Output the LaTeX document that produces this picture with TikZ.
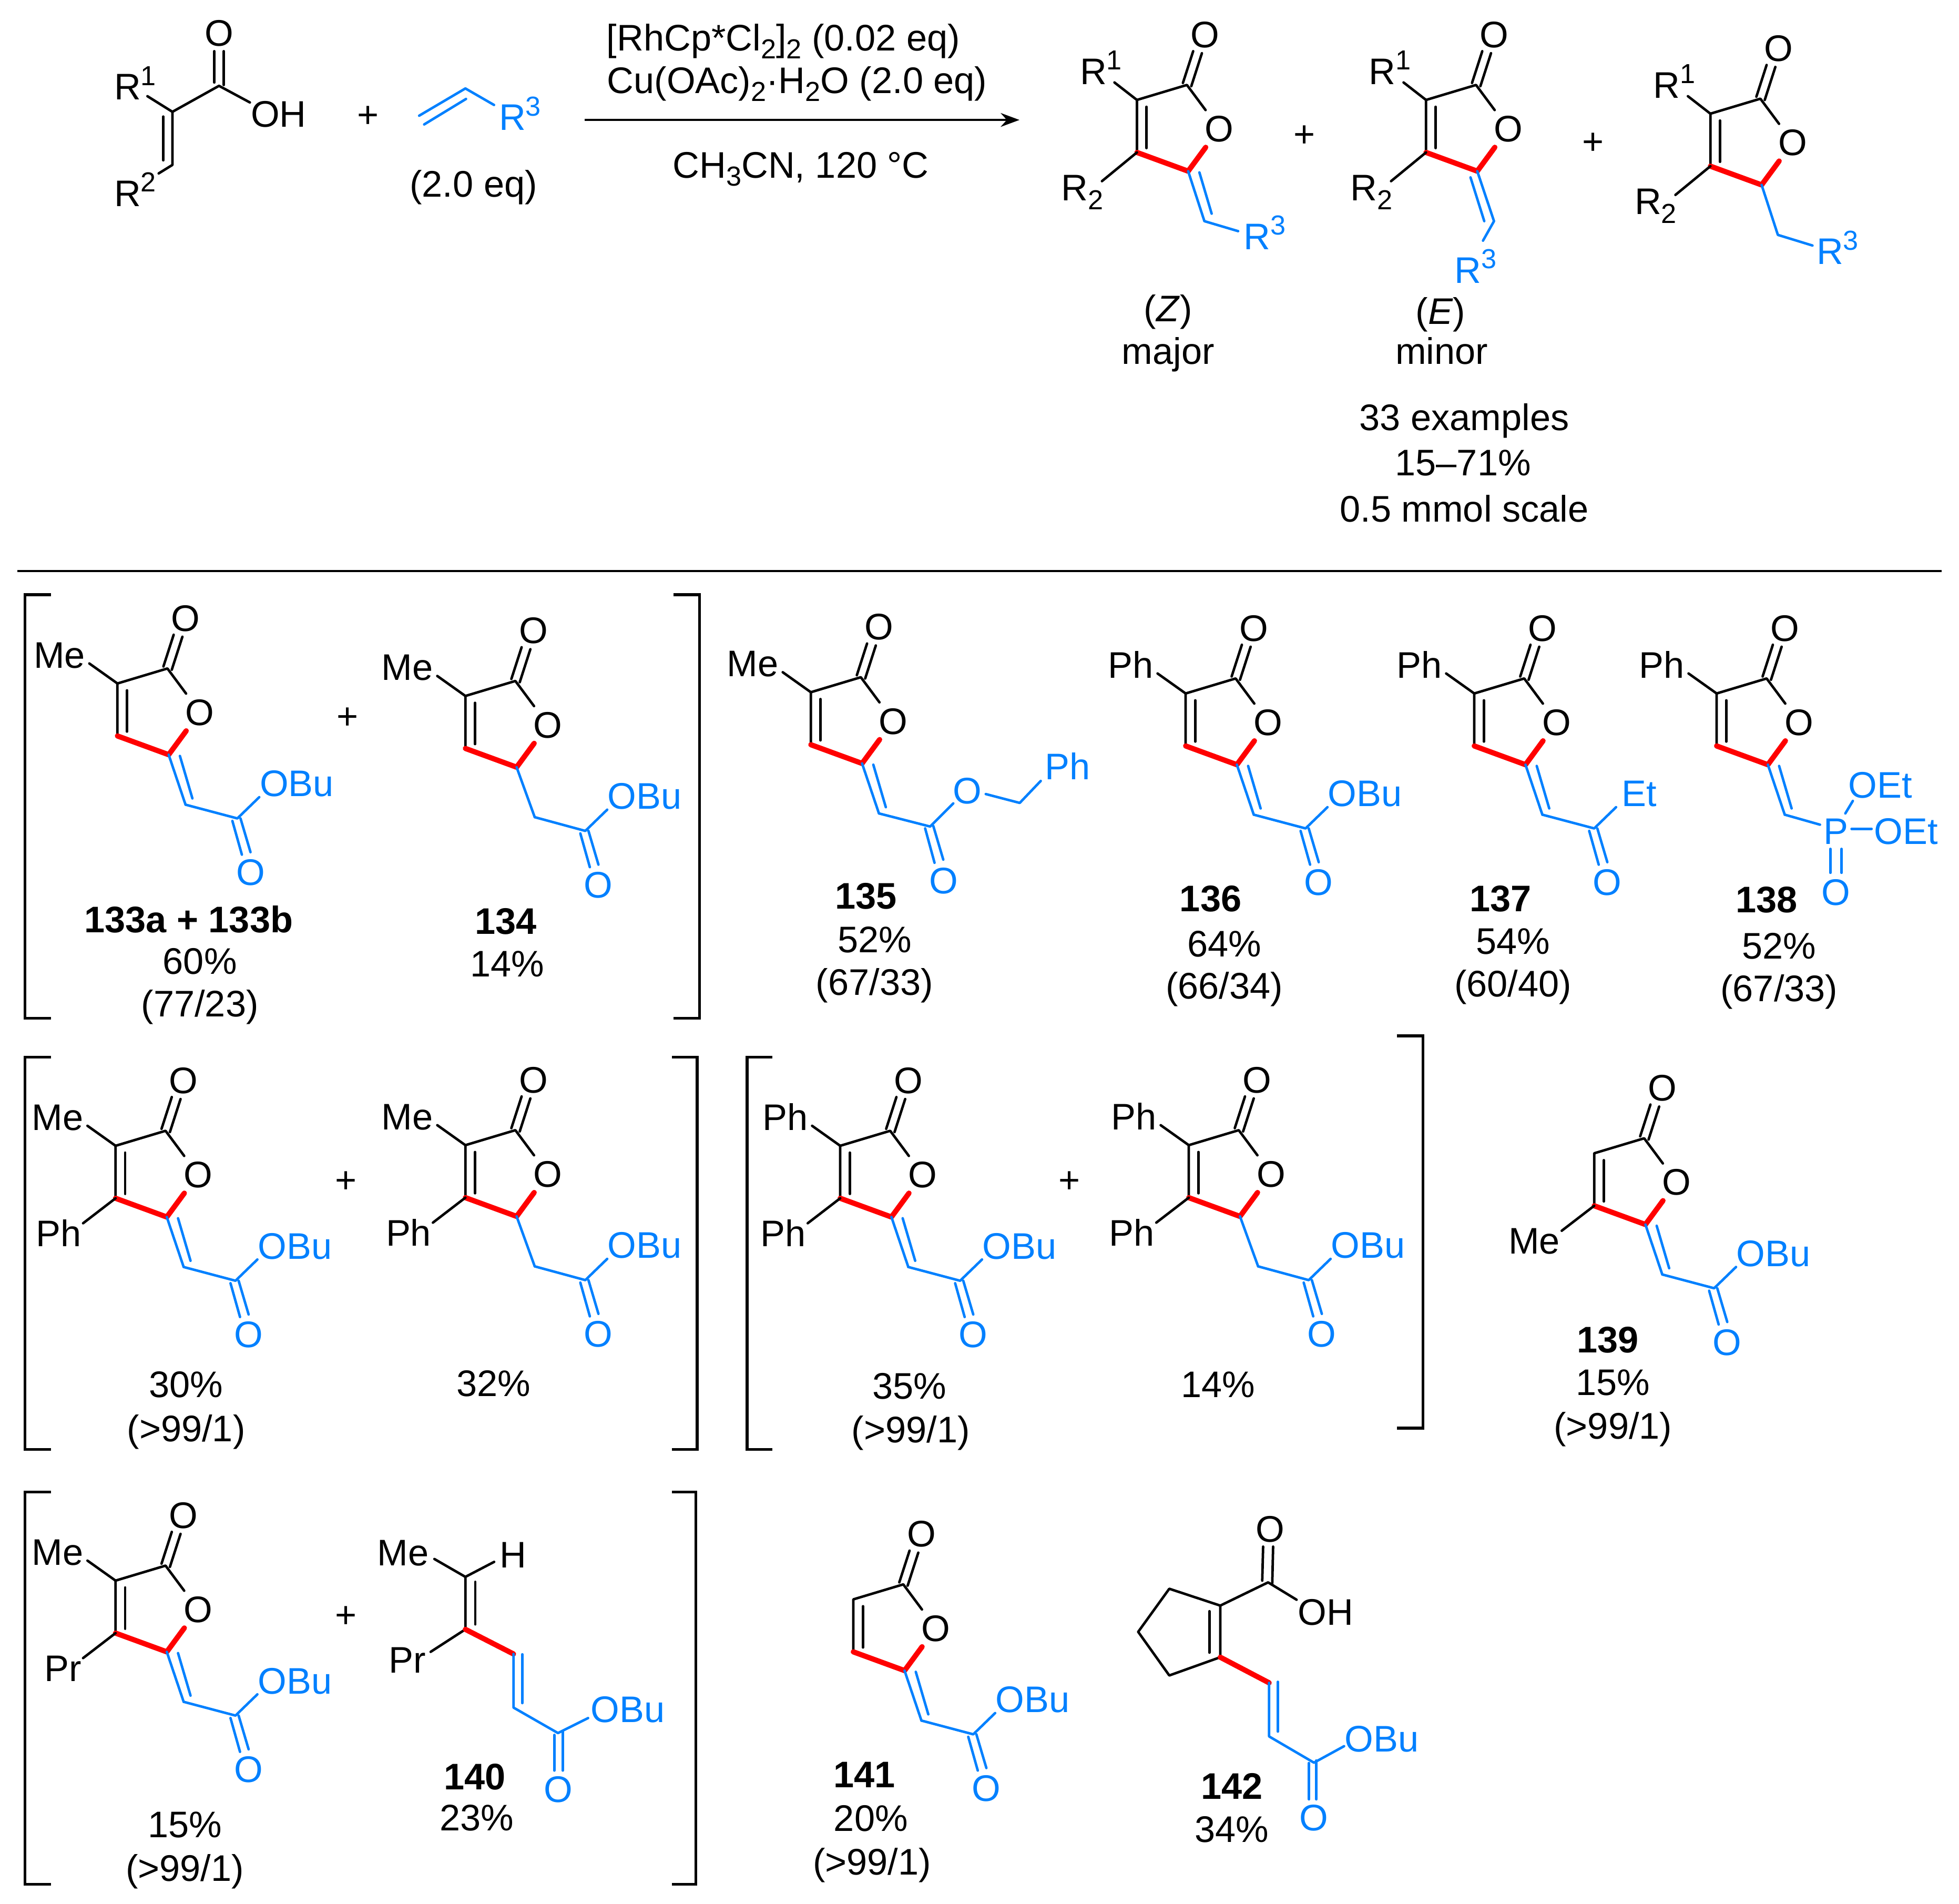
\documentclass[tikz,border=0pt]{standalone}
\usepackage{fontspec}
\setmainfont{Liberation Sans}
\usetikzlibrary{arrows.meta}
\definecolor{chemblue}{RGB}{0,128,255}
\definecolor{chemred}{RGB}{255,0,0}
\newcommand{\tsb}[1]{\raisebox{-3.2pt}{\fontsize{11}{12}\selectfont #1}}
\newcommand{\tsp}[1]{\raisebox{5.8pt}{\fontsize{11}{12}\selectfont #1}}
\tikzset{
  every node/.style={font=\fontsize{14.8}{17}\selectfont},
  bond/.style={line width=1pt,draw=black,line cap=round,line join=round},
  bluebond/.style={line width=1pt,draw=chemblue,line cap=round,line join=round},
  hot/.style={line width=2.1pt,draw=chemred,line cap=round,line join=round},
  brk/.style={line width=1.1pt,draw=black,line join=miter},
  atom/.style={inner sep=2pt,text height=10.5pt,text depth=0pt},
  bluatom/.style={atom,text=chemblue},
  rlab/.style={inner sep=0pt,text height=10.5pt,text depth=0pt},
  blurlab/.style={rlab,text=chemblue},
  lab/.style={inner sep=0pt,text height=10.5pt,text depth=0pt},
  ringatom/.style={inner sep=0pt,text height=10.5pt,text depth=0pt,anchor=east},
}
% furan-2-one ring; #1 prefix, origin (#2,#3) = ring carbon bearing the upper substituent
\newcommand{\lactone}[3]{%
  \begin{scope}[shift={(#2,#3)}]
    \coordinate (#1C4) at (0,0);
    \coordinate (#1C2) at (40,-12);
    \coordinate (#1C5) at (41,57);
    \coordinate (#1C3) at (0,42);
    \node[atom] (#1O) at (66,23) {O};
    \node[atom] (#1Oc) at (54.5,-52.5) {O};
    \draw[bond] (#1C3) -- (#1C4) -- (#1C2) -- (#1O);
    \draw[bond] (7.7,5.5) -- (7.7,38.5);
    \draw[bond] (36.8,-13.6) -- (45,-39);
    \draw[bond] (43.5,-11) -- (52,-37.4);
    \draw[hot] (#1C3) -- (#1C5) -- (#1O);
  \end{scope}}
\newcommand{\upsub}[4]{% prefix, origin, text
  \begin{scope}[shift={(#2,#3)}]
    \node[ringatom] (#1U) at (-25.5,-23) {#4};
    \coordinate (#1Ue) at (-22.5,-16);
    \draw[bond] (#1C4) -- (#1Ue);
  \end{scope}}
\newcommand{\lowsub}[4]{%
  \begin{scope}[shift={(#2,#3)}]
    \node[ringatom] (#1L) at (-27,70) {#4};
    \coordinate (#1Le) at (-26,62);
    \draw[bond] (#1C3) -- (#1Le);
  \end{scope}}
% exocyclic Z double bond
\newcommand{\exoZ}[3]{%
  \begin{scope}[shift={(#2,#3)}]
    \coordinate (#1CH) at (54.5,97);
    \draw[bluebond] (#1C5) -- (#1CH);
    \draw[bluebond] (50,58) -- (60,92);
  \end{scope}}
\newcommand{\exoS}[3]{%
  \begin{scope}[shift={(#2,#3)}]
    \coordinate (#1CH) at (55.5,97);
    \draw[bluebond] (#1C5) -- (#1CH);
  \end{scope}}
% carbonyl part; #4 = label
\newcommand{\ester}[4]{%
  \begin{scope}[shift={(#2,#3)}]
    \coordinate (#1CE) at (96,108);
    \node[bluatom,inner sep=0pt,anchor=west] (#1R) at (113.5,80) {#4};
    \node[bluatom] (#1Od) at (106.5,151) {O};
    \coordinate (#1Re) at (113.5,91);
    \draw[bluebond] (#1CH) -- (#1CE) -- (#1Re);
    \draw[bluebond] (92,110) -- (99.6,137);
    \draw[bluebond] (98.5,108) -- (106.5,135);
  \end{scope}}
\newcommand{\prodsubs}[3]{%
  \begin{scope}[shift={(#2,#3)}]
    \node[rlab,anchor=west] (#1R1) at (-46,-23) {R\tsp{1}};
    \node[rlab,anchor=west] (#1R2) at (-61,70) {R\raisebox{-3.5pt}{\fontsize{11}{12}\selectfont 2}};
    \coordinate (#1R1e) at (-18,-14);
    \coordinate (#1R2e) at (-28,65);
    \draw[bond] (#1C4) -- (#1R1e);
    \draw[bond] (#1C3) -- (#1R2e);
  \end{scope}}
\begin{document}
\begin{tikzpicture}[x=0.5pt,y=-0.5pt]
\useasboundingbox (0,0) rectangle (1568,1523.8);
% ---------- reaction: reactants
\coordinate (aA) at (138,89.5);
\coordinate (aC) at (175.3,68.7);
\coordinate (aB) at (138,132);
\coordinate (aR1e) at (118,77);
\coordinate (aR2e) at (127,138.8);
\coordinate (aOHe) at (200,82);
\node[atom] (aO) at (175.3,26.4) {O};
\node[rlab,anchor=west] (aR1) at (91,69.4) {R\tsp{1}};
\node[rlab,anchor=west] (aR2) at (91,154.5) {R\tsp{2}};
\node[atom] (aOH) at (223,91) {OH};
\draw[bond] (aR1e) -- (aA) -- (aC) -- (aOHe);
\draw[bond] (aA) -- (aB) -- (aR2e);
\draw[bond] (130.7,93.3) -- (130.7,128.3);
\draw[bond] (171.6,41) -- (171.6,66);
\draw[bond] (179.2,41) -- (179.2,68);
\node[lab] (plusA) at (294.7,91.5) {+};
\coordinate (vA) at (335.5,92.6);
\coordinate (vB) at (372.5,70.8);
\coordinate (vRe) at (395.4,84);
\node[blurlab,anchor=west] (vR) at (399,93.7) {R\tsp{3}};
\draw[bluebond] (vA) -- (vB) -- (vRe);
\draw[bluebond] (339.5,99.6) -- (373,79.2);
\node[lab] (eqA) at (379,147) {(2.0 eq)};
% arrow
\coordinate (arS) at (468,96);
\coordinate (arE) at (816,96);
\draw[line width=1pt,-{Stealth[length=7.5pt,width=5.5pt]}] (arS) -- (arE);
\node[lab] (cond1) at (627,30) {[RhCp*Cl\tsb{2}]\tsb{2} (0.02 eq)};
\node[lab] (cond2) at (638,64) {Cu(OAc)\tsb{2}·H\tsb{2}O (2.0 eq)};
\node[lab] (cond3) at (641,132) {CH\tsb{3}CN, 120 °C};
% ---------- products
\lactone{pz}{910}{80}\prodsubs{pz}{910}{80}
\coordinate (pzCH) at (964,177);
\coordinate (pzRe) at (991,185);
\node[blurlab,anchor=west] (pzR3) at (995,189) {R\tsp{3}};
\draw[bluebond] (pzC5) -- (pzCH) -- (pzRe);
\draw[bluebond] (960,138) -- (969.8,171);
\lactone{pe}{1141.4}{80}\prodsubs{pe}{1141.4}{80}
\coordinate (peCH) at (1195.8,177);
\coordinate (peRe) at (1187,192.6);
\node[blurlab,anchor=west] (peR3) at (1164,216) {R\tsp{3}};
\draw[bluebond] (peC5) -- (peCH) -- (peRe);
\draw[bluebond] (1177,142) -- (1188,177);
\lactone{ps}{1369}{91}\prodsubs{ps}{1369}{91}
\coordinate (psCH) at (1423,188);
\coordinate (psRe) at (1450.7,196.5);
\node[blurlab,anchor=west] (psR3) at (1453.6,201) {R\tsp{3}};
\draw[bluebond] (psC5) -- (psCH) -- (psRe);
\node[lab] (plusB) at (1044,107) {+};
\node[lab] (plusC) at (1275,113) {+};
\node[lab] (zl) at (935,247) {(\textit{Z})};
\node[lab] (zm) at (935,281) {major};
\node[lab] (el) at (1153,249) {(\textit{E})};
\node[lab] (em) at (1154,281) {minor};
\node[lab] (ex1) at (1172,334) {33 examples};
\node[lab] (ex2) at (1171,370) {15–71\%};
\node[lab] (ex3) at (1172,407) {0.5 mmol scale};
% separator
\coordinate (sepL) at (14,457);
\coordinate (sepR) at (1554,457);
\draw[line width=1pt] (sepL) -- (sepR);
% ---------- row 1
\draw[brk] (41,476) -- (20,476) -- (20,815) -- (41,815);
\draw[brk] (539,476) -- (560,476) -- (560,815) -- (539,815);
\lactone{a}{94}{547}\upsub{a}{94}{547}{Me}\exoZ{a}{94}{547}\ester{a}{94}{547}{OBu}
\node[lab] (aN) at (151,736) {\textbf{133a + 133b}};
\node[lab] (aY) at (160,769) {60\%};
\node[lab] (aD) at (160,803) {(77/23)};
\node[lab] (plusD) at (278,573) {+};
\lactone{b}{372.5}{557}\upsub{b}{372.5}{557}{Me}\exoS{b}{372.5}{557}\ester{b}{372.5}{557}{OBu}
\node[lab] (bN) at (405,737) {\textbf{134}};
\node[lab] (bY) at (406,771) {14\%};
% 135
\lactone{c}{649}{554}\upsub{c}{649}{554}{Me}\exoZ{c}{649}{554}
\coordinate (cE) at (744.5,661.5);
\coordinate (cOe) at (763,643);
\coordinate (cO2) at (789,635.5);
\coordinate (cCH2) at (816.2,642.6);
\coordinate (cPe) at (833,625);
\node[bluatom] (cO) at (774.3,632.8) {O};
\node[blurlab,anchor=west] (cP) at (836,613.3) {Ph};
\node[bluatom] (cOd) at (755.5,704.5) {O};
\draw[bluebond] (cCH) -- (cE) -- (cOe);
\draw[bluebond] (cO2) -- (cCH2) -- (cPe);
\draw[bluebond] (740.5,663) -- (748,690.5);
\draw[bluebond] (747,661) -- (755,688);
\node[lab] (cN) at (693,717) {\textbf{135}};
\node[lab] (cY) at (700,752) {52\%};
\node[lab] (cD) at (700,786) {(67/33)};
% 136
\lactone{d}{949}{555}\upsub{d}{949}{555}{Ph}\exoZ{d}{949}{555}\ester{d}{949}{555}{OBu}
\node[lab] (dN) at (969,719) {\textbf{136}};
\node[lab] (dY) at (980,755) {64\%};
\node[lab] (dD) at (980,789) {(66/34)};
% 137
\lactone{e}{1180}{555}\upsub{e}{1180}{555}{Ph}\exoZ{e}{1180}{555}\ester{e}{1180}{555}{\hspace{2pt}Et}
\node[lab] (eN) at (1201,719) {\textbf{137}};
\node[lab] (eY) at (1211,753) {54\%};
\node[lab] (eD) at (1211,787) {(60/40)};
% 138
\lactone{f}{1374}{555}\upsub{f}{1374}{555}{Ph}\exoZ{f}{1374}{555}
\coordinate (fPe) at (1456.7,660);
\node[blurlab] (fP) at (1469.4,665) {P};
\node[blurlab,anchor=west] (fOa) at (1479,628) {OEt};
\node[blurlab,anchor=west] (fOb) at (1499.8,665) {OEt};
\node[bluatom] (fOd) at (1469.4,714) {O};
\coordinate (fa1) at (1477,651);
\coordinate (fa2) at (1483,641);
\coordinate (fb1) at (1482,663.3);
\coordinate (fb2) at (1498,663.3);
\draw[bluebond] (fCH) -- (fPe);
\draw[bluebond] (fa1) -- (fa2);
\draw[bluebond] (fb1) -- (fb2);
\draw[bluebond] (1465,679.4) -- (1465,698.5);
\draw[bluebond] (1474,679.4) -- (1474,698.5);
\node[lab] (fN) at (1414,720) {\textbf{138}};
\node[lab] (fY) at (1424,757) {52\%};
\node[lab] (fD) at (1424,791) {(67/33)};
% ---------- row 2
\draw[brk] (41,846) -- (20,846) -- (20,1160) -- (41,1160);
\draw[brk] (538,846) -- (558,846) -- (558,1160) -- (538,1160);
\lactone{g}{92.5}{917}\upsub{g}{92.5}{917}{Me}\lowsub{g}{92.5}{917}{Ph\hspace{-1pt}}\exoZ{g}{92.5}{917}\ester{g}{92.5}{917}{OBu}
\node[lab] (gY) at (149,1108) {30\%};
\node[lab] (gD) at (149,1143) {(>99/1)};
\node[lab] (plusE) at (277,944) {+};
\lactone{h}{372.5}{916.5}\upsub{h}{372.5}{916.5}{Me}\lowsub{h}{372.5}{916.5}{Ph\hspace{-1pt}}\exoS{h}{372.5}{916.5}\ester{h}{372.5}{916.5}{OBu}
\node[lab] (hY) at (395,1107) {32\%};
\draw[brk] (618,846) -- (598,846) -- (598,1160) -- (618,1160);
\draw[brk] (1118,829) -- (1139,829) -- (1139,1143) -- (1118,1143);
\lactone{i}{672.5}{917}\upsub{i}{672.5}{917}{Ph\hspace{-0.75pt}}\lowsub{i}{672.5}{917}{Ph\hspace{-1pt}}\exoZ{i}{672.5}{917}\ester{i}{672.5}{917}{OBu}
\node[lab] (iY) at (728,1109) {35\%};
\node[lab] (iD) at (729,1144) {(>99/1)};
\node[lab] (plusF) at (856,944) {+};
\lactone{j}{951.5}{916.5}\upsub{j}{951.5}{916.5}{Ph\hspace{-0.75pt}}\lowsub{j}{951.5}{916.5}{Ph\hspace{-1pt}}\exoS{j}{951.5}{916.5}\ester{j}{951.5}{916.5}{OBu}
\node[lab] (jY) at (975,1108) {14\%};
\lactone{k}{1276}{923}\lowsub{k}{1276}{923}{Me}\exoZ{k}{1276}{923}\ester{k}{1276}{923}{OBu}
\node[lab] (kN) at (1287,1072) {\textbf{139}};
\node[lab] (kY) at (1291,1106) {15\%};
\node[lab] (kD) at (1291,1141) {(>99/1)};
% ---------- row 3
\draw[brk] (41,1194) -- (20,1194) -- (20,1508) -- (41,1508);
\draw[brk] (538,1194) -- (557,1194) -- (557,1508) -- (538,1508);
\lactone{l}{92.5}{1265}\upsub{l}{92.5}{1265}{Me}\lowsub{l}{92.5}{1265}{Pr\hspace{1pt}}\exoZ{l}{92.5}{1265}\ester{l}{92.5}{1265}{OBu}
\node[lab] (lY) at (148,1460) {15\%};
\node[lab] (lD) at (148,1495) {(>99/1)};
\node[lab] (plusG) at (277,1292) {+};
% 140
\coordinate (mA) at (372.5,1262);
\coordinate (mB) at (372.5,1304);
\coordinate (mC) at (411,1323.7);
\coordinate (mD) at (411,1366.6);
\coordinate (mE) at (446.6,1387);
\coordinate (mMe) at (347.7,1247.7);
\coordinate (mHe) at (395.5,1250);
\coordinate (mPre) at (344.7,1322);
\coordinate (mOe) at (470.7,1375);
\node[rlab] (mM) at (322.5,1242.6) {Me};
\node[rlab] (mH) at (410.5,1244) {H};
\node[rlab] (mP) at (326,1328.5) {Pr};
\node[blurlab,anchor=west] (mR) at (472.5,1368) {OBu};
\node[bluatom] (mO) at (447,1432) {O};
\draw[bond] (mMe) -- (mA) -- (mHe);
\draw[bond] (mA) -- (mB) -- (mPre);
\draw[bond] (380.4,1266) -- (380.4,1300);
\draw[hot] (mB) -- (mC);
\draw[bluebond] (mC) -- (mD) -- (mE) -- (mOe);
\draw[bluebond] (418,1324) -- (418,1363);
\draw[bluebond] (443.6,1388.5) -- (443.6,1417);
\draw[bluebond] (450.4,1386) -- (450.4,1417);
\node[lab] (mN) at (380,1421.7) {\textbf{140}};
\node[lab] (mY) at (381.6,1454.7) {23\%};
% 141
\lactone{n}{683}{1280}\exoZ{n}{683}{1280}\ester{n}{683}{1280}{OBu}
\node[lab] (nN) at (692,1420) {\textbf{141}};
\node[lab] (nY) at (697,1455) {20\%};
\node[lab] (nD) at (698,1490) {(>99/1)};
% 142
\coordinate (qA) at (935.9,1271.5);
\coordinate (qB) at (976.7,1285);
\coordinate (qC) at (976.7,1326.3);
\coordinate (qD) at (935.9,1340.9);
\coordinate (qF) at (911,1306);
\coordinate (qG) at (1015,1266.4);
\coordinate (qOHe) at (1037.8,1280.3);
\coordinate (qH) at (1015.8,1346.8);
\coordinate (qI) at (1015.8,1389.7);
\coordinate (qJ) at (1051.7,1410.7);
\coordinate (qRe) at (1075.8,1397.5);
\node[atom] (qO) at (1016.8,1223.5) {O};
\node[atom] (qOH) at (1061,1290) {OH};
\node[blurlab,anchor=west] (qR) at (1076,1391.5) {OBu};
\node[bluatom] (qOd) at (1051.7,1454.7) {O};
\draw[bond] (qF) -- (qA) -- (qB) -- (qC) -- (qD) -- (qF);
\draw[bond] (qB) -- (qG) -- (qOHe);
\draw[bond] (968,1289.5) -- (968,1322.6);
\draw[bond] (1010.3,1265) -- (1011,1237.8);
\draw[bond] (1018.3,1268) -- (1019,1237.8);
\draw[hot] (qC) -- (qH);
\draw[bluebond] (qH) -- (qI) -- (qJ) -- (qRe);
\draw[bluebond] (1022.8,1346) -- (1022.8,1385.8);
\draw[bluebond] (1047.7,1411) -- (1047.7,1440);
\draw[bluebond] (1053.6,1409) -- (1053.6,1440);
\node[lab] (qN) at (986,1429.4) {\textbf{142}};
\node[lab] (qY) at (986,1464) {34\%};
\end{tikzpicture}
\end{document}
